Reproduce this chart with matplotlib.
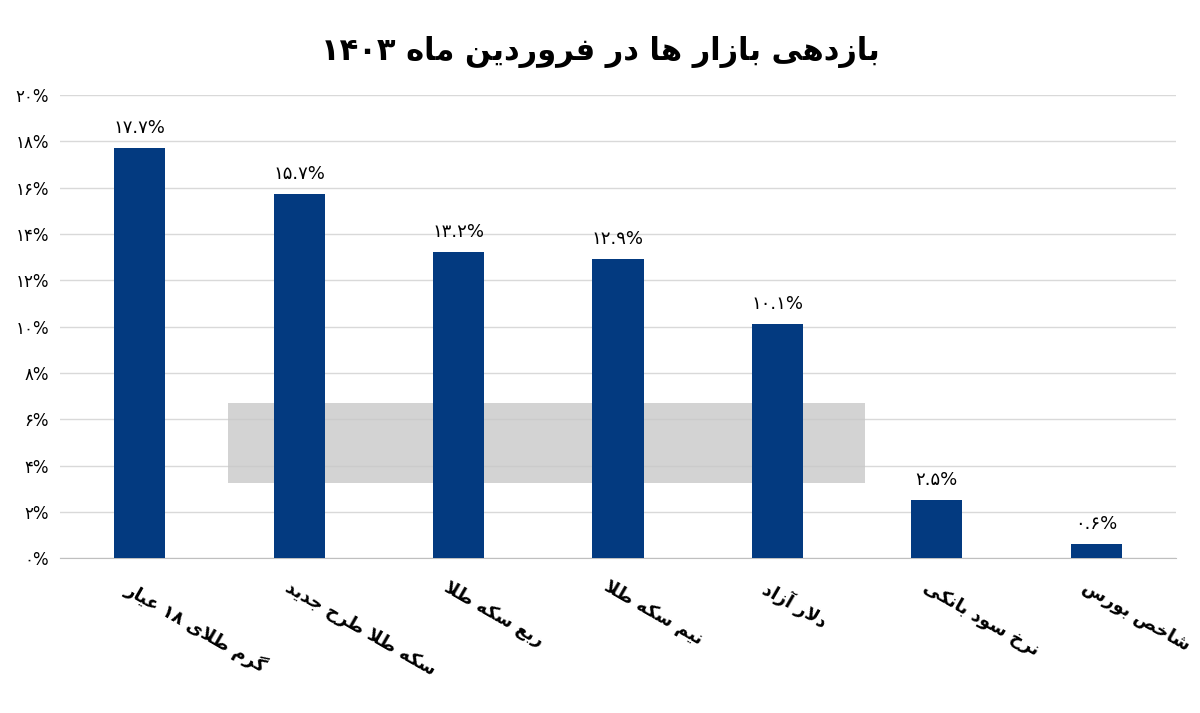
import matplotlib
matplotlib.use("Agg")
import matplotlib.pyplot as plt
from matplotlib.patches import Rectangle

title = "بازدهی بازار ها در فروردین ماه ۱۴۰۳"
categories = ["گرم طلای ۱۸ عیار", "سکه طلا طرح جدید", "ربع سکه طلا", "نیم سکه طلا",
              "دلار آزاد", "نرخ سود بانکی", "شاخص بورس"]
values = [17.7, 15.7, 13.2, 12.9, 10.1, 2.5, 0.6]
yticks = [0, 2, 4, 6, 8, 10, 12, 14, 16, 18, 20]

FORMS = {
 'ا':('\uFE8D','\uFE8E',None,None),'آ':('\uFE81','\uFE82',None,None),
 'ب':('\uFE8F','\uFE90','\uFE91','\uFE92'),'پ':('\uFB56','\uFB57','\uFB58','\uFB59'),
 'ت':('\uFE95','\uFE96','\uFE97','\uFE98'),'ج':('\uFE9D','\uFE9E','\uFE9F','\uFEA0'),
 'ح':('\uFEA1','\uFEA2','\uFEA3','\uFEA4'),'خ':('\uFEA5','\uFEA6','\uFEA7','\uFEA8'),
 'د':('\uFEA9','\uFEAA',None,None),'ذ':('\uFEAB','\uFEAC',None,None),
 'ر':('\uFEAD','\uFEAE',None,None),'ز':('\uFEAF','\uFEB0',None,None),
 'س':('\uFEB1','\uFEB2','\uFEB3','\uFEB4'),'ش':('\uFEB5','\uFEB6','\uFEB7','\uFEB8'),
 'ص':('\uFEB9','\uFEBA','\uFEBB','\uFEBC'),'ط':('\uFEC1','\uFEC2','\uFEC3','\uFEC4'),
 'ع':('\uFEC9','\uFECA','\uFECB','\uFECC'),'ف':('\uFED1','\uFED2','\uFED3','\uFED4'),
 'ک':('\uFB8E','\uFB8F','\uFB90','\uFB91'),'گ':('\uFB92','\uFB93','\uFB94','\uFB95'),
 'ل':('\uFEDD','\uFEDE','\uFEDF','\uFEE0'),'م':('\uFEE1','\uFEE2','\uFEE3','\uFEE4'),
 'ن':('\uFEE5','\uFEE6','\uFEE7','\uFEE8'),'و':('\uFEED','\uFEEE',None,None),
 'ه':('\uFEE9','\uFEEA','\uFEEB','\uFEEC'),'ی':('\uFBFC','\uFBFD','\uFBFE','\uFBFF'),
}

def shape(s):
    s = s.replace('لا', '\uE000')
    out = []
    chars = list(s)
    def joins_next(c):
        if c == '\uE000': return False
        return c in FORMS and FORMS[c][2] is not None
    def joinable(c):
        return c in FORMS or c == '\uE000'
    for i, c in enumerate(chars):
        prev = chars[i-1] if i > 0 else None
        nxt = chars[i+1] if i + 1 < len(chars) else None
        jp = prev is not None and joins_next(prev)
        if c == '\uE000':
            out.append('\uFEFC' if jp else '\uFEFB'); continue
        if c not in FORMS:
            out.append(c); continue
        f = FORMS[c]
        jn = nxt is not None and joinable(nxt) and f[2] is not None
        if jp and jn: out.append(f[3])
        elif jp: out.append(f[1])
        elif jn: out.append(f[2])
        else: out.append(f[0])
    tokens, cur, isd = [], '', None
    for c in out:
        d = c.isdigit()
        if isd is None or d == isd: cur += c
        else: tokens.append((cur, isd)); cur = c
        isd = d
    if cur: tokens.append((cur, isd))
    return ''.join(t if d else t[::-1] for t, d in reversed(tokens))

def fa(n):
    return str(n).translate(str.maketrans('0123456789', '۰۱۲۳۴۵۶۷۸۹'))

plt.rcParams['font.family'] = ['DejaVu Sans']
fig = plt.figure(figsize=(12, 7.13), dpi=100)
ax = fig.add_axes([0.05, 0.217, 0.93, 0.65])
x = list(range(len(values)))
ax.bar(x, values, width=0.32, color='#033a80', zorder=3)
for xi, v in zip(x, values):
    ax.text(xi, v + 0.5, fa(v) + '%', ha='center', va='bottom', fontsize=13, zorder=4)
ax.set_ylim(0, 20)
ax.set_xlim(-0.5, len(values) - 0.5)
ax.set_yticks(yticks)
ax.set_yticklabels([fa(t) + '%' for t in yticks], fontsize=12)
ax.yaxis.grid(True, color='#d9d9d9', lw=1, zorder=0)
ax.set_xticks([xi - 0.05 for xi in x])
ax.set_xticklabels([shape(c) for c in categories], rotation=-30, ha='left',
                   rotation_mode='anchor', fontsize=13, fontweight='bold')
ax.tick_params(axis='x', length=0, pad=14)
ax.tick_params(axis='y', length=0, pad=8)
for s in ['left', 'right', 'top']:
    ax.spines[s].set_visible(False)
ax.spines['bottom'].set_color('#bfbfbf')
ax.add_patch(Rectangle((0.19, 0.323), 0.531, 0.112, transform=fig.transFigure,
                       facecolor='#c8c8c8', alpha=0.8, zorder=2))
fig.suptitle(shape(title), y=0.95, fontsize=22, fontweight='bold')
fig.savefig('out.png', dpi=100)
